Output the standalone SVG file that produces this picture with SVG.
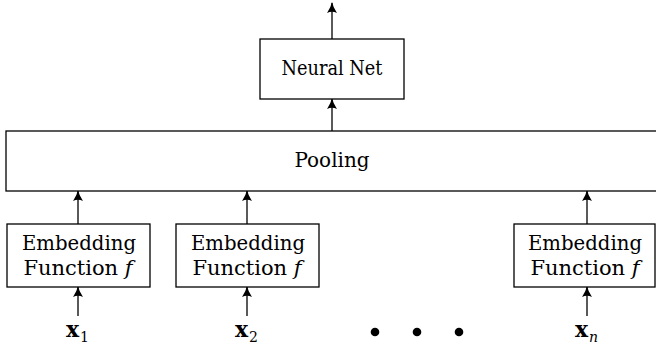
<svg xmlns="http://www.w3.org/2000/svg" width="656" height="347" viewBox="0 0 656 347">
<defs>
<marker id="ah" viewBox="0 0 10 10" refX="9" refY="5" markerWidth="11" markerHeight="11" markerUnits="userSpaceOnUse" orient="auto">
<path d="M0,0.5 Q5,4 10,5 Q5,6 0,9.5 Q2.2,5 0,0.5 Z" fill="#000"/>
</marker>
<style>
.box{fill:#fff;stroke:#000;stroke-width:1.3}
.t{font-family:DejaVu Serif, serif;font-size:21px;fill:#000;text-anchor:middle}
.c{stroke:#000;stroke-width:1.3;fill:none;marker-end:url(#ah)}
.xb{font-family:DejaVu Serif, serif;font-weight:bold;font-size:22px;fill:#000}
.sub{font-family:DejaVu Serif, serif;font-size:14px;fill:#000}
</style>
</defs>
<g id="connectors">
<line class="c" x1="332" y1="39" x2="332" y2="3"/>
<line class="c" x1="332" y1="131" x2="332" y2="99"/>
<line class="c" x1="78" y1="224" x2="78" y2="191"/>
<line class="c" x1="247" y1="224" x2="247" y2="191"/>
<line class="c" x1="587" y1="224" x2="587" y2="191"/>
<line class="c" x1="78" y1="316" x2="78" y2="287"/>
<line class="c" x1="247" y1="316" x2="247" y2="287"/>
<line class="c" x1="587" y1="316" x2="587" y2="287"/>
</g>
<g id="neuralnet">
<rect class="box" x="260" y="39" width="144" height="60"/>
<text class="t" x="332" y="75" textLength="101" lengthAdjust="spacingAndGlyphs">Neural Net</text>
</g>
<g id="pooling">
<rect class="box" x="6" y="131" width="660" height="60"/>
<text class="t" x="332" y="167" textLength="75" lengthAdjust="spacingAndGlyphs">Pooling</text>
</g>
<g id="embed1">
<rect class="box" x="7" y="224" width="143" height="63"/>
<text class="t" x="79" y="250" textLength="114" lengthAdjust="spacingAndGlyphs">Embedding</text>
<text class="t" x="78" y="275">Function <tspan font-style="italic">f</tspan></text>
</g>
<g id="embed2">
<rect class="box" x="176" y="224" width="143" height="63"/>
<text class="t" x="248" y="250" textLength="114" lengthAdjust="spacingAndGlyphs">Embedding</text>
<text class="t" x="247" y="275">Function <tspan font-style="italic">f</tspan></text>
</g>
<g id="embed3">
<rect class="box" x="514" y="224" width="141" height="63"/>
<text class="t" x="585" y="250" textLength="114" lengthAdjust="spacingAndGlyphs">Embedding</text>
<text class="t" x="585" y="275">Function <tspan font-style="italic">f</tspan></text>
</g>
<g id="x1"><text class="xb" x="66" y="337">x</text><text class="sub" x="80" y="342">1</text></g>
<g id="x2"><text class="xb" x="235" y="337">x</text><text class="sub" x="249" y="342">2</text></g>
<g id="xn"><text class="xb" x="575" y="337">x</text><text class="sub" x="589" y="342" font-style="italic">n</text></g>
<g id="dots">
<circle cx="375" cy="332" r="4.3"/>
<circle cx="417" cy="332" r="4.3"/>
<circle cx="459" cy="332" r="4.3"/>
</g>
</svg>
